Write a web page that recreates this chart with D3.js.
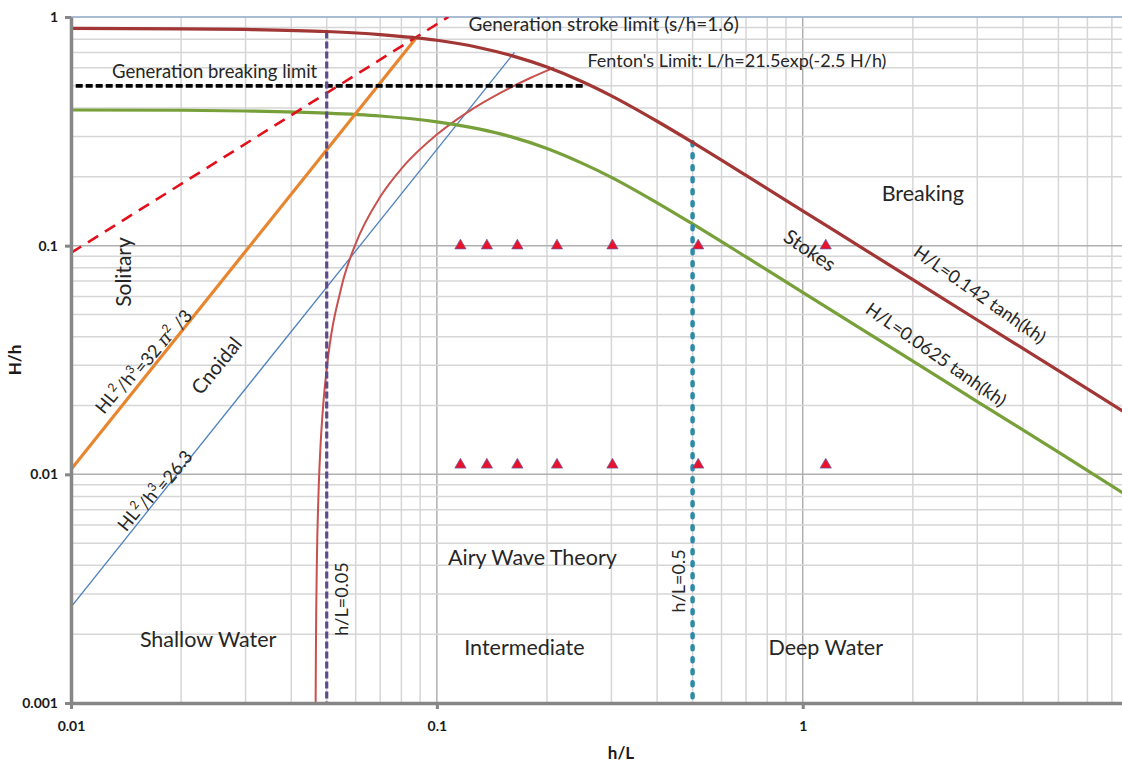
<!DOCTYPE html>
<html>
<head>
<meta charset="utf-8">
<script src="https://cdnjs.cloudflare.com/ajax/libs/d3/7.8.5/d3.min.js"></script>
<style>
  body { margin: 0; background: #fff; }
  text { font-family: Lato, "Open Sans", sans-serif; fill: #262626; }
  .tick-label { font-weight: bold; font-size: 14px; fill: #1a1a1a; }
  .axis-title { font-weight: bold; font-size: 17px; fill: #1a1a1a; }
</style>
</head>
<body>
<div id="chart"></div>
<script>
// Breaking limit H/L = 0.142 tanh(kh)
var breakingHL = [0.01, 0.02, 0.03, 0.05, 0.07, 0.1, 0.13, 0.16, 0.2, 0.25, 0.3, 0.4, 0.5, 0.7, 1, 1.5, 2, 3, 5, 7.5];
var breakingHh = [0.891, 0.888, 0.882, 0.864, 0.838, 0.791, 0.736, 0.678, 0.604, 0.521, 0.452, 0.350, 0.283, 0.203, 0.142, 0.0947, 0.071, 0.0473, 0.0284, 0.0189];

// Stokes limit H/L = 0.0625 tanh(kh)
var stokesHL = [0.01, 0.02, 0.03, 0.05, 0.07, 0.1, 0.13, 0.16, 0.2, 0.25, 0.3, 0.4, 0.5, 0.7, 1, 1.5, 2, 3, 5, 7.5];
var stokesHh = [0.392, 0.391, 0.388, 0.380, 0.369, 0.348, 0.324, 0.299, 0.266, 0.229, 0.199, 0.154, 0.1245, 0.0893, 0.0625, 0.0417, 0.0313, 0.0208, 0.0125, 0.0083];

// Fenton's limit L/h = 21.5exp(-2.5 H/h)
var fentonHL = [0.04663, 0.0467, 0.0468, 0.047, 0.0475, 0.048, 0.049, 0.05, 0.055, 0.06, 0.07, 0.08, 0.1, 0.12, 0.15, 0.18, 0.209];
var fentonHh = [0.001, 0.0016, 0.0025, 0.0042, 0.0084, 0.0126, 0.0209, 0.0289, 0.0671, 0.102, 0.1635, 0.217, 0.306, 0.379, 0.468, 0.541, 0.601];

// straight limits (end points)
var solitaryHL = [0.01, 0.088];          // HL^2/h^3 = 32 pi^2 / 3
var solitaryHh = [0.0105, 0.813];
var cnoidalHL = [0.01, 0.163];           // HL^2/h^3 = 26.3
var cnoidalHh = [0.00263, 0.70];
var strokeHL = [0.01, 0.1075];           // generation stroke limit s/h = 1.6
var strokeHh = [0.093, 1.0];
var genBreakHL = [0.0103, 0.252];        // generation breaking limit
var genBreakHh = [0.5, 0.5];
var shallowHL = [0.05, 0.05];            // h/L = 0.05
var shallowHh = [0.864, 0.001];
var deepHL = [0.5, 0.5];                 // h/L = 0.5
var deepHh = [0.283, 0.001];

// test conditions (triangles)
var testHL = [0.116, 0.137, 0.166, 0.213, 0.302, 0.518, 1.156];
var testHh = [0.1, 0.011];

// axis ticks
var xTickValues = [0.01, 0.1, 1];
var yTickValues = [0.001, 0.01, 0.1, 1];
var xTickLabels = ["0.01", "0.1", "1"];
var yTickLabels = ["0.001", "0.01", "0.1", "1"];

// chart set up
var svgWidth = 1122;
var svgHeight = 768;
var margin = {top: 17, right: 0, bottom: 65, left: 71};
var width = svgWidth - margin.left - margin.right;
var height = svgHeight - margin.top - margin.bottom;

var svg = d3.select("#chart")
    .append("svg")
    .attr("width", svgWidth)
    .attr("height", svgHeight);

var chartGroup = svg.append("g")
    .attr("transform", `translate(${margin.left}, ${margin.top})`);

var xScale = d3.scaleLog()
    .domain([0.01, 7.46])
    .range([0, width]);

var yScale = d3.scaleLog()
    .domain([0.001, 1])
    .range([height, 0]);

chartGroup.append("clipPath")
    .attr("id", "plot-clip")
    .append("rect")
    .attr("width", width)
    .attr("height", height);

// grid lines
var isDecade = d => Math.abs(Math.log10(d) - Math.round(Math.log10(d))) < 1e-6;

chartGroup.append("g").selectAll("line")
    .data(xScale.ticks())
    .enter()
    .append("line")
    .attr("x1", d => xScale(d))
    .attr("x2", d => xScale(d))
    .attr("y1", 0)
    .attr("y2", height)
    .attr("stroke", d => isDecade(d) ? "#b0b0b0" : "#d6d6d6")
    .attr("stroke-width", 1.5);

chartGroup.append("g").selectAll("line")
    .data(yScale.ticks())
    .enter()
    .append("line")
    .attr("x1", 0)
    .attr("x2", width)
    .attr("y1", d => yScale(d))
    .attr("y2", d => yScale(d))
    .attr("stroke", d => isDecade(d) ? "#b0b0b0" : "#d6d6d6")
    .attr("stroke-width", 1.5);

// top border
chartGroup.append("line")
    .attr("x1", 0).attr("x2", width)
    .attr("y1", yScale(1)).attr("y2", yScale(1))
    .attr("stroke", "#8db3e2")
    .attr("stroke-width", 1.2);

// lines
var line = d3.line()
    .x(d => xScale(d[0]))
    .y(d => yScale(d[1]))
    .curve(d3.curveMonotoneX);

var straight = d3.line()
    .x(d => xScale(d[0]))
    .y(d => yScale(d[1]));

var plot = chartGroup.append("g").attr("clip-path", "url(#plot-clip)");

function addLine(xs, ys, gen, color, w, dash, cap) {
    plot.append("path")
        .datum(d3.zip(xs, ys))
        .attr("d", gen)
        .attr("fill", "none")
        .attr("stroke", color)
        .attr("stroke-width", w)
        .attr("stroke-dasharray", dash || null)
        .attr("stroke-linecap", cap || "butt");
}

addLine(cnoidalHL, cnoidalHh, straight, "#4f81bd", 1.3);
addLine(fentonHL, fentonHh, line, "#c8504d", 2);
addLine(stokesHL, stokesHh, line, "#77a03a", 3.2);
addLine(solitaryHL, solitaryHh, straight, "#e8862f", 3.2);
addLine(strokeHL, strokeHh, straight, "#e3101c", 2.6, "12,8");
addLine(genBreakHL, genBreakHh, straight, "#000000", 3.8, "7,3");
addLine(shallowHL, shallowHh, straight, "#5f4a8b", 3.2, "7,3");
addLine(deepHL, deepHh, straight, "#2e8aa8", 4.5, "3,9", "round");
addLine(breakingHL, breakingHh, line, "#a23634", 3.2);

// axes
var bottomAxis = d3.axisBottom(xScale)
    .tickValues(xTickValues)
    .tickSize(6)
    .tickSizeOuter(0)
    .tickFormat((d, i) => xTickLabels[i]);

var leftAxis = d3.axisLeft(yScale)
    .tickValues(yTickValues)
    .tickSize(6)
    .tickSizeOuter(0)
    .tickFormat((d, i) => yTickLabels[i]);

var xAxisG = chartGroup.append("g")
    .attr("transform", `translate(0, ${height})`)
    .call(bottomAxis);

var yAxisG = chartGroup.append("g")
    .call(leftAxis);

[xAxisG, yAxisG].forEach(function(g) {
    g.select(".domain").attr("stroke", "#868686").attr("stroke-width", 3.5);
    g.selectAll(".tick line").attr("stroke", "#868686").attr("stroke-width", 3);
    g.selectAll(".tick text").attr("class", "tick-label").attr("font-size", null).attr("font-family", null);
});
xAxisG.selectAll(".tick text").attr("dy", "0.9em").attr("y", 15);
yAxisG.selectAll(".tick text").attr("x", -13);

// axis titles
chartGroup.append("text")
    .attr("class", "axis-title")
    .attr("transform", `translate(${17 - margin.left}, ${360 - margin.top}) rotate(-90)`)
    .attr("text-anchor", "middle")
    .attr("dominant-baseline", "middle")
    .text("H/h");

chartGroup.append("text")
    .attr("class", "axis-title")
    .attr("x", 621 - margin.left)
    .attr("y", 755 - margin.top)
    .attr("text-anchor", "middle")
    .attr("dominant-baseline", "middle")
    .text("h/L");

// annotations, anchored in data units
var notes = [
    {t: "Generation stroke limit (s/h=1.6)", x: 0.122, y: 0.913, a: "start", r: 0, s: 19},
    {t: "Fenton's Limit: L/h=21.5exp(-2.5 H/h)", x: 0.258, y: 0.636, a: "start", r: 0, s: 18},
    {t: "Generation breaking limit", x: 0.01295, y: 0.569, a: "start", r: 0, s: 18.5},
    {t: "Breaking", x: 2.13, y: 0.165, a: "middle", r: 0, s: 21.5},
    {t: "Stokes", x: 1.038, y: 0.0938, a: "middle", r: 34, s: 20},
    {t: "H/L=0.142 tanh(kh)", x: 3.03, y: 0.0603, a: "middle", r: 35, s: 18},
    {t: "H/L=0.0625 tanh(kh)", x: 2.30, y: 0.0329, a: "middle", r: 35, s: 18},
    {t: "Solitary", x: 0.01414, y: 0.0767, a: "middle", r: -90, s: 21},
    {t: "Cnoidal", x: 0.02524, y: 0.02947, a: "middle", r: -51, s: 20},
    {t: "h/L=0.05", x: 0.0555, y: 0.00285, a: "middle", r: -90, s: 18},
    {t: "h/L=0.5", x: 0.4638, y: 0.00342, a: "middle", r: -90, s: 18},
    {t: "Airy Wave Theory", x: 0.1825, y: 0.00422, a: "middle", r: 0, s: 21.5},
    {t: "Shallow Water", x: 0.0237, y: 0.00185, a: "middle", r: 0, s: 21.5},
    {t: "Intermediate", x: 0.1735, y: 0.00172, a: "middle", r: 0, s: 21.5},
    {t: "Deep Water", x: 1.156, y: 0.00172, a: "middle", r: 0, s: 21.5}
];

chartGroup.selectAll(".note")
    .data(notes)
    .enter()
    .append("text")
    .attr("class", "note")
    .attr("transform", d => `translate(${xScale(d.x)}, ${yScale(d.y)}) rotate(${d.r})`)
    .attr("text-anchor", d => d.a)
    .attr("dominant-baseline", "middle")
    .style("font-size", d => d.s + "px")
    .text(d => d.t);

// HL^2/h^3 labels with real superscripts
function superLabel(px, py, parts) {
    var t = chartGroup.append("text")
        .attr("transform", `translate(${px}, ${py}) rotate(-51)`)
        .attr("text-anchor", "middle")
        .attr("dominant-baseline", "middle")
        .style("font-size", "18px");
    parts.forEach(function(p) {
        var sp = t.append("tspan").text(p[0]);
        if (p[1] === "sup") sp.attr("dy", "-0.4em").style("font-size", "12px");
        if (p[1] === "base") sp.attr("dy", "0.4em");
        if (p[1] === "pi") sp.style("font-family", "'DejaVu Serif', serif").style("font-style", "italic");
        if (p[1] === "pibase") sp.attr("dy", "0.4em").style("font-family", "'DejaVu Serif', serif").style("font-style", "italic");
    });
}

superLabel(xScale(0.01564), yScale(0.0316), [
    ["HL"], ["2", "sup"], ["/h", "base"], ["3", "sup"], ["=32 ", "base"], ["π", "pi"], ["2", "sup"], [" /3", "base"]
]);
superLabel(xScale(0.01687), yScale(0.00854), [
    ["HL"], ["2", "sup"], ["/h", "base"], ["3", "sup"], ["=26.3", "base"]
]);

// test points
var testPoints = [];
testHh.forEach(function(h) {
    testHL.forEach(function(x) { testPoints.push([x, h]); });
});

chartGroup.selectAll(".test")
    .data(testPoints)
    .enter()
    .append("path")
    .attr("class", "test")
    .attr("d", d3.symbol().type(d3.symbolTriangle).size(55))
    .attr("transform", d => `translate(${xScale(d[0])}, ${yScale(d[1])})`)
    .attr("fill", "#e8132b")
    .attr("stroke", "#6a5aa8")
    .attr("stroke-width", 0.7);
</script>
</body>
</html>
